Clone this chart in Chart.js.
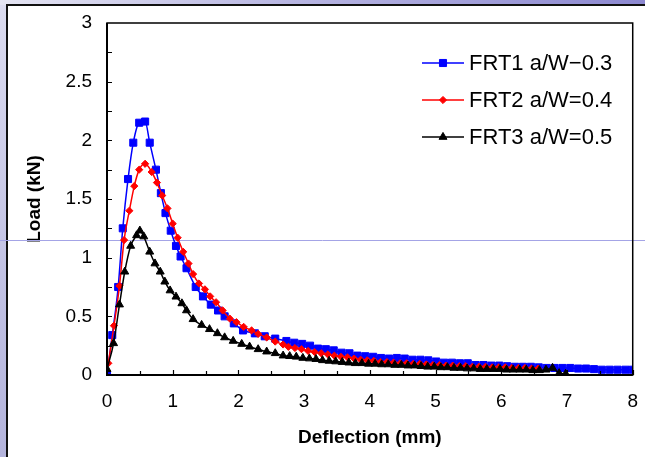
<!DOCTYPE html>
<html>
<head>
<meta charset="utf-8">
<script src="https://cdn.jsdelivr.net/npm/chart.js@4/dist/chart.umd.min.js"></script>
<style>
    html, body { margin: 0; padding: 0; background: #fff; }
    body { width: 645px; height: 457px; position: relative; overflow: hidden; }
    #leftband { position: absolute; left: 0; top: 0; width: 7px; height: 457px;
                background: linear-gradient(#dcdcf0, #c2c2e4 60%, #b4b4dc); }
    #topband { position: absolute; left: 0; top: 0; width: 645px; height: 5px;
               background: linear-gradient(to right, #e4e4f2, #b8b6e2 45%, #8c88d0); }
    #panel { position: absolute; left: 6px; top: 4px; width: 639px; height: 453px; box-sizing: border-box;
             background: #fff; border-left: 2px solid #111; border-top: 2px solid #111; }
    #chart { position: absolute; left: 0; top: 0; }
</style>
</head>
<body>
<div id="leftband"></div>
<div id="topband"></div>
<div id="panel"></div>
<canvas id="chart" width="645" height="457"></canvas>
<script>
'use strict';

// FRT1 a/W=0.3
const frt1Defl = [0, 0.08, 0.17, 0.24, 0.32, 0.40, 0.49, 0.58, 0.65, 0.745, 0.82, 0.89, 0.97, 1.05, 1.12, 1.21,
    1.35, 1.46, 1.58, 1.69, 1.79, 1.93, 2.07, 2.25, 2.40, 2.56, 2.73, 2.85, 2.97, 3.09, 3.21, 3.33, 3.45,
    3.57, 3.69, 3.81, 3.93, 4.05, 4.17, 4.29, 4.41, 4.53, 4.65, 4.77, 4.89, 5.01, 5.13, 5.25, 5.37, 5.49,
    5.61, 5.73, 5.85, 5.97, 6.09, 6.21, 6.33, 6.45, 6.57, 6.69, 6.81, 6.93, 7.05, 7.17, 7.29, 7.41, 7.53,
    7.65, 7.77, 7.89, 8.0];
const frt1Load = [0, 0.34, 0.75, 1.25, 1.67, 1.98, 2.15, 2.16, 1.98, 1.75, 1.55, 1.38, 1.23, 1.10, 1.01, 0.91,
    0.75, 0.67, 0.60, 0.55, 0.50, 0.44, 0.38, 0.355, 0.33, 0.31, 0.29, 0.275, 0.265, 0.25, 0.225, 0.22, 0.21,
    0.19, 0.185, 0.165, 0.16, 0.155, 0.145, 0.14, 0.145, 0.14, 0.13, 0.13, 0.125, 0.115, 0.105, 0.105, 0.10, 0.10,
    0.085, 0.085, 0.08, 0.08, 0.075, 0.07, 0.07, 0.07, 0.065, 0.06, 0.06, 0.06, 0.06, 0.055, 0.055, 0.05, 0.045,
    0.045, 0.045, 0.045, 0.045];

// FRT2 a/W=0.4
const frt2Defl = [0.02, 0.106, 0.19, 0.26, 0.34, 0.415, 0.49, 0.58, 0.68, 0.76, 0.84, 0.92, 1.0, 1.075, 1.16,
    1.24, 1.31, 1.40, 1.49, 1.57, 1.66, 1.76, 1.87, 1.97, 2.08, 2.20, 2.30, 2.43, 2.56, 2.68, 2.76, 2.86,
    2.96, 3.06, 3.16, 3.26, 3.36, 3.46, 3.56, 3.66, 3.76, 3.86, 3.96, 4.06, 4.16, 4.26, 4.36, 4.46, 4.56,
    4.66, 4.76, 4.86, 4.96, 5.06, 5.16, 5.26, 5.36, 5.46, 5.56, 5.66, 5.76, 5.86, 5.96, 6.06, 6.16, 6.26,
    6.36, 6.46, 6.56];
const frt2Load = [0.10, 0.42, 0.76, 1.15, 1.40, 1.61, 1.75, 1.80, 1.73, 1.64, 1.53, 1.42, 1.29, 1.17, 1.05,
    0.95, 0.86, 0.78, 0.73, 0.67, 0.62, 0.55, 0.48, 0.45, 0.41, 0.38, 0.35, 0.32, 0.285, 0.26, 0.24, 0.23,
    0.22, 0.205, 0.195, 0.185, 0.175, 0.165, 0.155, 0.15, 0.14, 0.13, 0.125, 0.12, 0.11, 0.11, 0.105, 0.10, 0.10,
    0.095, 0.095, 0.09, 0.085, 0.085, 0.08, 0.08, 0.075, 0.075, 0.07, 0.07, 0.07, 0.065, 0.065, 0.065, 0.06, 0.06,
    0.06, 0.055, 0.055];

// FRT3 a/W=0.5
const frt3Defl = [0, 0.1, 0.19, 0.27, 0.36, 0.45, 0.50, 0.56, 0.65, 0.73, 0.81, 0.88, 0.96, 1.05, 1.14, 1.21,
    1.31, 1.44, 1.56, 1.68, 1.79, 1.92, 2.05, 2.17, 2.30, 2.43, 2.56, 2.68, 2.78, 2.88, 2.98, 3.08, 3.18,
    3.28, 3.38, 3.48, 3.58, 3.68, 3.78, 3.88, 3.98, 4.08, 4.18, 4.28, 4.38, 4.48, 4.58, 4.68, 4.78, 4.88,
    4.98, 5.08, 5.18, 5.28, 5.38, 5.48, 5.58, 5.68, 5.78, 5.88, 5.98, 6.08, 6.18, 6.28, 6.38, 6.48, 6.58,
    6.68, 6.78, 6.88, 6.98];
const frt3Load = [0.05, 0.27, 0.60, 0.88, 1.10, 1.19, 1.23, 1.18, 1.05, 0.95, 0.88, 0.795, 0.72, 0.667, 0.61, 0.55,
    0.475, 0.426, 0.39, 0.355, 0.32, 0.29, 0.264, 0.241, 0.219, 0.199, 0.185, 0.165, 0.16, 0.155, 0.145, 0.14, 0.135,
    0.125, 0.12, 0.115, 0.11, 0.105, 0.10, 0.10, 0.095, 0.095, 0.09, 0.09, 0.085, 0.085, 0.08, 0.08, 0.075, 0.07,
    0.07, 0.065, 0.065, 0.06, 0.06, 0.055, 0.055, 0.05, 0.05, 0.05, 0.05, 0.045, 0.045, 0.045, 0.045, 0.04, 0.04,
    0.045, 0.06, 0.015, 0.01];

const seriesLabels = ['FRT1 a/W\u22120.3', 'FRT2 a/W=0.4', 'FRT3 a/W=0.5'];

const FONT = "'Liberation Sans', Arial, sans-serif";

function toPoints(xs, ys) {
    return xs.map((x, i) => ({ x: x, y: ys[i] }));
}

// тонкая синяя линия слайда поперёк всей картинки
const slideLine = {
    id: 'slideLine',
    beforeDatasetsDraw(chart) {
        const ctx = chart.ctx;
        ctx.save();
        ctx.strokeStyle = '#a4a4e6';
        ctx.lineWidth = 1;
        ctx.beginPath();
        ctx.moveTo(0, 240.5);
        ctx.lineTo(chart.width, 240.5);
        ctx.stroke();
        ctx.restore();
    }
};

// рамка, оси и засечки внутрь
const frame = {
    id: 'frame',
    afterDatasetsDraw(chart) {
        const { ctx, chartArea: a, scales } = chart;
        ctx.save();
        ctx.strokeStyle = '#000';
        ctx.lineWidth = 1.5;
        ctx.strokeRect(a.left, a.top, a.right - a.left, a.bottom - a.top);
        ctx.lineWidth = 2;
        ctx.beginPath();
        ctx.moveTo(a.left, a.top);
        ctx.lineTo(a.left, a.bottom);
        ctx.lineTo(a.right, a.bottom);
        ctx.stroke();
        ctx.lineWidth = 1.2;
        ctx.beginPath();
        for (let v = 0; v <= 8; v += 0.5) {
            const px = Math.round(scales.x.getPixelForValue(v)) + 0.5;
            const len = v % 1 === 0 ? 5 : 4;
            ctx.moveTo(px, a.bottom);
            ctx.lineTo(px, a.bottom - len);
        }
        for (let v = 0.25; v < 3; v += 0.25) {
            const py = Math.round(scales.y.getPixelForValue(v)) + 0.5;
            ctx.moveTo(a.left, py);
            ctx.lineTo(a.left + 5, py);
        }
        ctx.stroke();
        ctx.restore();
    }
};

// легенда внутри области графика
const insideLegend = {
    id: 'insideLegend',
    afterDraw(chart) {
        const ctx = chart.ctx;
        const rows = [63, 100, 137];
        ctx.save();
        chart.data.datasets.forEach((ds, i) => {
            const y = rows[i];
            ctx.strokeStyle = ds.borderColor;
            ctx.lineWidth = 1.5;
            ctx.beginPath();
            ctx.moveTo(422, y);
            ctx.lineTo(464, y);
            ctx.stroke();
            ctx.fillStyle = ds.pointBackgroundColor;
            ctx.strokeStyle = ds.borderColor;
            ctx.lineWidth = 1;
            Chart.helpers.drawPoint(ctx, {
                pointStyle: ds.pointStyle,
                radius: ds.pointRadius,
                borderWidth: 1,
                rotation: 0
            }, 443, y);
            ctx.fillStyle = '#000';
            ctx.font = '22px ' + FONT;
            ctx.textBaseline = 'middle';
            ctx.textAlign = 'left';
            ctx.fillText(ds.label, 469, y + 1);
        });
        ctx.restore();
    }
};

function series(label, xs, ys, color, style, radius, order) {
    return {
        label: label,
        data: toPoints(xs, ys),
        showLine: true,
        borderColor: color,
        backgroundColor: color,
        pointBackgroundColor: color,
        pointBorderColor: color,
        borderWidth: 1.5,
        pointStyle: style,
        pointRadius: radius,
        pointBorderWidth: 1,
        cubicInterpolationMode: 'monotone',
        order: order
    };
}

const ctx = document.getElementById('chart').getContext('2d');
new Chart(ctx, {
    type: 'scatter',
    data: {
        datasets: [
            series(seriesLabels[0], frt1Defl, frt1Load, '#0000ff', 'rect', 5, 2),
            series(seriesLabels[1], frt2Defl, frt2Load, '#ff0000', 'rectRot', 3.6, 1),
            series(seriesLabels[2], frt3Defl, frt3Load, '#000000', 'triangle', 4.6, 0)
        ]
    },
    options: {
        responsive: false,
        animation: false,
        layout: { padding: { left: 0, top: 23, right: 5, bottom: 0 } },
        plugins: {
            legend: { display: false },
            tooltip: { enabled: false }
        },
        scales: {
            x: {
                type: 'linear',
                min: 0,
                max: 8,
                grid: { display: false },
                border: { display: false },
                ticks: {
                    stepSize: 1, padding: 7, color: '#000',
                    font: { family: FONT, size: 19 },
                    callback: (v) => String(v)
                },
                title: {
                    display: true,
                    text: 'Deflection (mm)',
                    color: '#000',
                    font: { family: FONT, size: 19, weight: 'bold' },
                    padding: { top: 0, bottom: 8 }
                },
                afterFit(scale) { scale.height = 82; }
            },
            y: {
                type: 'linear',
                min: 0,
                max: 3,
                grid: { display: false },
                border: { display: false },
                ticks: {
                    stepSize: 0.5, padding: 7, color: '#000',
                    font: { family: FONT, size: 19 },
                    callback: (v) => String(v)
                },
                title: {
                    display: true,
                    text: 'Load (kN)',
                    color: '#000',
                    font: { family: FONT, size: 19, weight: 'bold' },
                    padding: { top: 23, bottom: 0 }
                },
                afterFit(scale) { scale.width = 107; }
            }
        }
    },
    plugins: [slideLine, frame, insideLegend]
});
</script>
</body>
</html>
